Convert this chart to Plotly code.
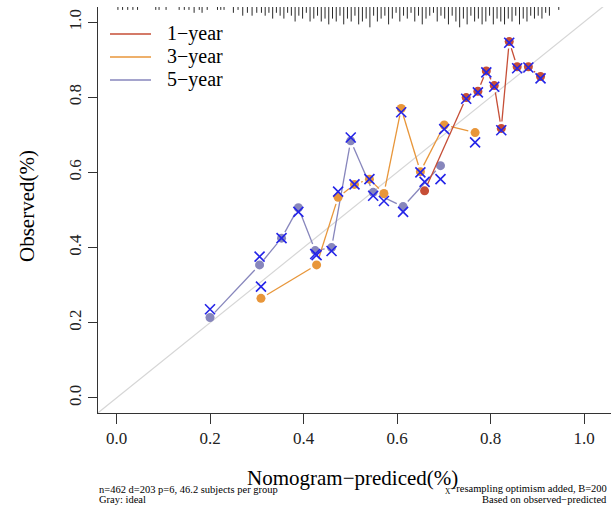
import math
import plotly.graph_objects as go

# ---------------- data ----------------
series_names = ["1−year", "3−year", "5−year"]
series_colors = ["#C64E36", "#E8963A", "#8786BC"]

pred_1y = [0.659, 0.748, 0.773, 0.791, 0.808, 0.823, 0.840, 0.857, 0.881, 0.907]
obs_1y = [0.551, 0.799, 0.816, 0.870, 0.831, 0.717, 0.948, 0.881, 0.881, 0.855]
corr_1y = [0.575, 0.796, 0.813, 0.866, 0.828, 0.712, 0.945, 0.877, 0.879, 0.850]

pred_3y = [0.309, 0.428, 0.474, 0.509, 0.541, 0.572, 0.609, 0.650, 0.701, 0.767]
obs_3y = [0.265, 0.354, 0.534, 0.568, 0.582, 0.544, 0.770, 0.602, 0.726, 0.706]
corr_3y = [0.296, 0.380, 0.549, 0.568, 0.582, 0.524, 0.760, 0.600, 0.715, 0.680]

pred_5y = [0.200, 0.306, 0.353, 0.389, 0.425, 0.460, 0.501, 0.549, 0.613, 0.693]
obs_5y = [0.214, 0.354, 0.425, 0.506, 0.392, 0.400, 0.684, 0.547, 0.509, 0.618]
corr_5y = [0.236, 0.376, 0.425, 0.495, 0.383, 0.391, 0.693, 0.538, 0.495, 0.582]

ideal = [-0.2, 1.2]

rug_x = [0.003, 0.013, 0.024, 0.035, 0.045, 0.084, 0.091, 0.106, 0.134, 0.145,
         0.155, 0.166, 0.177, 0.183, 0.194, 0.216, 0.223, 0.230, 0.250, 0.260,
         0.270, 0.280, 0.290, 0.300,
         0.310, 0.318, 0.326, 0.334, 0.342, 0.350, 0.358, 0.366, 0.374, 0.382,
         0.390, 0.398, 0.406, 0.414, 0.422, 0.430, 0.438, 0.446, 0.454, 0.462,
         0.470, 0.478, 0.486, 0.494, 0.502, 0.510, 0.518, 0.526, 0.534, 0.542,
         0.550, 0.558, 0.566, 0.574, 0.582, 0.590, 0.598, 0.606, 0.614, 0.622,
         0.630, 0.638, 0.646, 0.654, 0.662, 0.670, 0.678, 0.686, 0.694, 0.702,
         0.710, 0.718, 0.726, 0.734, 0.742, 0.750, 0.758, 0.766, 0.774, 0.782,
         0.790, 0.798, 0.806, 0.814, 0.822, 0.830, 0.838, 0.846, 0.854, 0.862,
         0.870, 0.878, 0.886, 0.894, 0.902, 0.910, 0.918, 0.926, 0.946]
rug_n = [1, 1, 1, 1, 1, 1, 1, 1, 1, 1,
         1, 2, 1, 2, 1, 1, 1, 1, 2, 1,
         3, 2, 3, 2,
         2, 3, 2, 4, 2, 3, 4, 2, 3, 5,
         3, 4, 2, 5, 4, 3, 5, 4, 6, 4,
         5, 3, 6, 4, 5, 3, 6, 5, 4, 7,
         3, 5, 4, 3, 6, 4, 2, 5, 3, 4,
         2, 5, 3, 6, 4, 3, 2, 5, 3, 4,
         6, 3, 5, 7, 4, 6, 3, 5, 4, 6,
         5, 3, 6, 4, 5, 6, 4, 5, 3, 6,
         4, 5, 3, 4, 3, 4, 2, 3, 1]

x_ticks = [0.0, 0.2, 0.4, 0.6, 0.8, 1.0]
y_ticks = [0.0, 0.2, 0.4, 0.6, 0.8, 1.0]

# ---------------- layout constants ----------------
W, H = 611, 507
ML, MR, MT, MB = 98, 0, 7, 94
PW, PH = W - ML - MR, H - MT - MB
XR = [-0.0396, -0.0396 + PW / 467.5]
YR = [-0.04, 1.04]
PXX = PW / (XR[1] - XR[0])
PXY = PH / (YR[1] - YR[0])
FONT = "Liberation Serif, Times New Roman, serif"


def gapped(xs, ys, gap=7.0):
    ox, oy = [], []
    for i in range(len(xs) - 1):
        dx = (xs[i + 1] - xs[i])
        dy = (ys[i + 1] - ys[i])
        L = math.hypot(dx * PXX, dy * PXY)
        if L <= 2 * gap:
            continue
        f = gap / L
        ox += [xs[i] + f * dx, xs[i + 1] - f * dx, None]
        oy += [ys[i] + f * dy, ys[i + 1] - f * dy, None]
    return ox, oy


fig = go.Figure()

# ideal line
fig.add_trace(go.Scatter(x=ideal, y=ideal, mode="lines",
                         line=dict(color="#D6D6D6", width=1.2),
                         hoverinfo="skip", showlegend=False))

# rug at top
rx, ry = [], []
for xv, n in zip(rug_x, rug_n):
    rx += [xv, xv, None]
    ry += [YR[1], YR[1] - n * 2.9 / PXY, None]
fig.add_trace(go.Scatter(x=rx, y=ry, mode="lines",
                         line=dict(color="#2A2A2A", width=1),
                         hoverinfo="skip", showlegend=False))

data = [(pred_5y, obs_5y, corr_5y, series_colors[2]),
        (pred_3y, obs_3y, corr_3y, series_colors[1]),
        (pred_1y, obs_1y, corr_1y, series_colors[0])]

for px, ob, co, col in data:
    gx, gy = gapped(px, ob)
    fig.add_trace(go.Scatter(x=gx, y=gy, mode="lines",
                             line=dict(color=col, width=1.3),
                             hoverinfo="skip", showlegend=False))
    fig.add_trace(go.Scatter(x=px, y=ob, mode="markers",
                             marker=dict(color=col, size=9, line=dict(width=0)),
                             showlegend=False))

for px, ob, co, col in data:
    fig.add_trace(go.Scatter(x=px, y=co, mode="markers",
                             marker=dict(symbol="x-thin", size=10, color="#2424E8",
                                         line=dict(color="#2424E8", width=1.6)),
                             showlegend=False))

# manual legend (paper coords)
def pxp(px):
    return (px - ML) / PW


def pyp(py):
    return (H - MB - py) / PH


leg_y = [34, 57, 80]
for name, col, ly in zip(series_names, series_colors, leg_y):
    fig.add_shape(type="line", xref="paper", yref="paper",
                  x0=pxp(110), x1=pxp(151), y0=pyp(ly), y1=pyp(ly),
                  line=dict(color=col, width=1.6))
    fig.add_annotation(xref="paper", yref="paper", x=pxp(165), y=pyp(ly),
                       text=name, showarrow=False, xanchor="left", yanchor="middle",
                       font=dict(family=FONT, size=20, color="black"))

# axis titles
fig.add_annotation(xref="paper", yref="paper", x=pxp(352), y=pyp(478),
                   text="Nomogram−prediced(%)", showarrow=False,
                   xanchor="center", yanchor="middle",
                   font=dict(family=FONT, size=21, color="black"))
fig.add_annotation(xref="paper", yref="paper", x=pxp(27), y=pyp(206),
                   text="Observed(%)", showarrow=False, textangle=-90,
                   xanchor="center", yanchor="middle",
                   font=dict(family=FONT, size=21, color="black"))

# footnotes
foot = dict(family=FONT, size=10.5, color="black")
fig.add_annotation(xref="paper", yref="paper", x=pxp(97), y=pyp(489),
                   text="n=462 d=203 p=6, 46.2 subjects per group", showarrow=False,
                   xanchor="left", yanchor="middle", font=foot)
fig.add_annotation(xref="paper", yref="paper", x=pxp(97), y=pyp(500),
                   text="Gray: ideal", showarrow=False,
                   xanchor="left", yanchor="middle", font=foot)
fig.add_annotation(xref="paper", yref="paper", x=pxp(609), y=pyp(489),
                   text="<sub>X</sub>−resampling optimism added, B=200", showarrow=False,
                   xanchor="right", yanchor="middle", font=foot)
fig.add_annotation(xref="paper", yref="paper", x=pxp(609), y=pyp(500),
                   text="Based on observed−predicted", showarrow=False,
                   xanchor="right", yanchor="middle", font=foot)

axis_common = dict(showgrid=False, zeroline=False, showline=True, linecolor="#333333",
                   linewidth=1, ticks="outside", tickcolor="#333333", tickwidth=1,
                   automargin=False,
                   tickformat=".1f", tickfont=dict(family=FONT, size=17, color="#222222"))

fig.update_xaxes(range=XR, tickvals=x_ticks, ticklen=10, **axis_common)
fig.update_yaxes(range=YR, tickvals=y_ticks, ticklen=9, tickangle=-90, **axis_common)

fig.update_layout(width=W, height=H, margin=dict(l=ML, r=MR, t=MT, b=MB, autoexpand=False),
                  paper_bgcolor="white", plot_bgcolor="white", showlegend=False)

fig.write_html("out.html", config={"displayModeBar": False},
               post_script="document.body.style.margin='0';document.body.style.padding='0';")
